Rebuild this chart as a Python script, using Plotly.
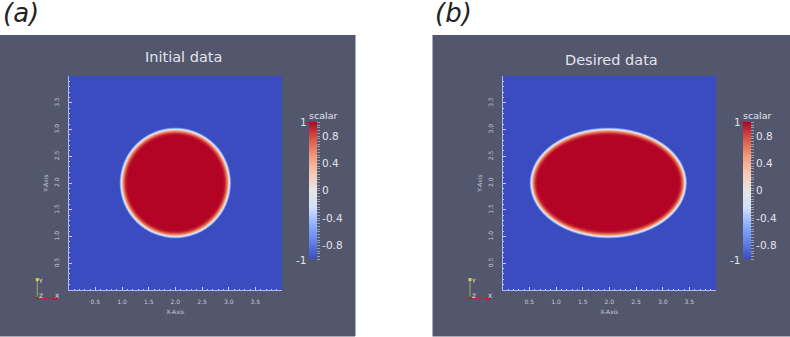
import plotly.graph_objects as go
from plotly.colors import sample_colorscale

W = 790
H = 337

# scalar field, read along the edge of each blob (outer level first)
levels = [-0.92, -0.8, -0.65, -0.5, -0.35, -0.2, -0.05, 0.12, 0.3, 0.48, 0.62, 0.74, 0.84, 0.92, 0.97, 1.0]
radii_y = [1.04, 1.034, 1.028, 1.022, 1.016, 1.01, 1.004, 0.998, 0.99, 0.98, 0.968, 0.955, 0.94, 0.925, 0.91, 0.89]
radii_x_a = [1.05, 1.044, 1.038, 1.032, 1.026, 1.02, 1.014, 1.008, 1.0, 0.99, 0.978, 0.965, 0.95, 0.935, 0.92, 0.9]
radii_x_b = [1.48, 1.474, 1.468, 1.462, 1.456, 1.45, 1.444, 1.438, 1.43, 1.42, 1.408, 1.395, 1.38, 1.365, 1.35, 1.33]
centre_a = (2.0, 2.0)
centre_b = (1.98, 2.0)

grid_x = [0, 4]
grid_y = [0, 4]
background = [[-1, -1], [-1, -1]]

axis_ticks = [0.5, 1.0, 1.5, 2.0, 2.5, 3.0, 3.5]
cbar_labels = {0.8: '0.8', 0.4: '0.4', 0.0: '0', -0.4: '-0.4', -0.8: '-0.8'}
cbar_ticks = [round(-1 + 0.04 * i, 2) for i in range(51)]

coolwarm = [[0, '#3b4cc0'], [0.125, '#6282ea'], [0.25, '#8db0fe'], [0.375, '#d3e1fb'], [0.5, '#e6e5e5'],
            [0.625, '#f8c8b2'], [0.75, '#f49a7b'], [0.875, '#d95847'], [1, '#b40426']]

PANEL = '#52576e'
EDGE = '#a9abb9'
TEXT = '#e4e4ea'
FONT = 'DejaVu Sans'


def fx(px):
    return px / W


def fy(px):
    return 1 - px / H


def axis_style(**kwargs):
    return dict(range=[0, 4], tickvals=axis_ticks, ticktext=['%.1f' % t for t in axis_ticks], ticks='inside',
                ticklen=3, tickwidth=1, tickcolor='#c5cdf2', showgrid=False, zeroline=False, showline=True,
                linecolor='#aeb9f0', linewidth=1, ticklabelstandoff=6,
                tickfont=dict(size=6, color='#c9cad4', family=FONT),
                minor=dict(dtick=0.1, ticks='inside', ticklen=1.5, tickcolor='#c5cdf2', showgrid=False), **kwargs)


def add_text(fig, text, x, y, size, color=TEXT, anchor='center'):
    fig.add_annotation(text=text, xref='paper', yref='paper', x=fx(x), y=fy(y), xanchor=anchor, yanchor='middle',
                       showarrow=False, font=dict(size=size, color=color, family=FONT))


def add_panel(fig, n, left, right, plot_left, cbar_left, title, title_x, title_y, centre, radii_x, triad_x, edge_x):
    xname = 'x' if n == 1 else 'x%d' % n
    yname = 'y' if n == 1 else 'y%d' % n
    plot_right = plot_left + 213.3

    fig.add_shape(type='rect', xref='paper', yref='paper', x0=fx(left), x1=fx(right), y0=fy(336), y1=fy(35),
                  fillcolor=PANEL, line_width=0, layer='below')
    fig.add_shape(type='line', xref='paper', yref='paper', x0=fx(left), x1=fx(right), y0=fy(336.5), y1=fy(336.5),
                  line=dict(color=EDGE, width=1), layer='below')
    fig.add_shape(type='line', xref='paper', yref='paper', x0=fx(edge_x), x1=fx(edge_x), y0=fy(336), y1=fy(35),
                  line=dict(color=EDGE, width=1), layer='below')

    ticktext = [cbar_labels.get(t, '') for t in cbar_ticks]
    fig.add_trace(go.Heatmap(x=grid_x, y=grid_y, z=background, zmin=-1, zmax=1, colorscale=coolwarm,
                             xaxis=xname, yaxis=yname, hoverinfo='skip',
                             colorbar=dict(x=fx(cbar_left), xanchor='left', y=fy(259.3), yanchor='bottom',
                                           len=137.3 / H, thickness=7.5, thicknessmode='pixels', outlinewidth=0,
                                           ypad=0, xpad=0, tickvals=cbar_ticks, ticktext=ticktext, ticks='outside',
                                           ticklen=3.5, tickwidth=1, tickcolor='#9a9dad',
                                           tickfont=dict(size=10.5, color=TEXT, family=FONT))))

    # concentric level sets of the field, on the data axes
    for level, rx, ry in zip(levels, radii_x, radii_y):
        color = sample_colorscale(coolwarm, (level + 1) / 2)[0]
        fig.add_shape(type='circle', xref=xname, yref=yname, x0=centre[0] - rx, x1=centre[0] + rx,
                      y0=centre[1] - ry, y1=centre[1] + ry, fillcolor=color, line_width=0, layer='above')

    add_text(fig, title, title_x, title_y, 14.5)
    add_text(fig, 'scalar', cbar_left + 14, 115, 9.5)
    add_text(fig, '1', cbar_left - 6, 122.5, 10.5)
    add_text(fig, '-1', cbar_left - 8, 259.5, 10.5)

    fig.add_shape(type='line', xref='paper', yref='paper', x0=fx(cbar_left - 3), x1=fx(cbar_left), y0=fy(122.5),
                  y1=fy(122.5), line=dict(color='#a8233c', width=1))

    # orientation triad
    base_y = 298.3
    fig.add_shape(type='line', xref='paper', yref='paper', x0=fx(triad_x), x1=fx(triad_x), y0=fy(base_y), y1=fy(280),
                  line=dict(color='#a8a848', width=1))
    fig.add_shape(type='line', xref='paper', yref='paper', x0=fx(triad_x), x1=fx(triad_x + 18), y0=fy(base_y),
                  y1=fy(base_y), line=dict(color='#c8202c', width=1))
    for x0, x1, y0, y1, color in [(triad_x - 1.5, triad_x + 1.5, base_y - 1.5, base_y + 1.5, '#0a7a20'),
                                  (triad_x + 17, triad_x + 20, base_y - 1.5, base_y + 1.5, '#d01020'),
                                  (triad_x - 1.5, triad_x + 1.5, 278, 281, '#d8d030')]:
        fig.add_shape(type='rect', xref='paper', yref='paper', x0=fx(x0), x1=fx(x1), y0=fy(y1), y1=fy(y0),
                      fillcolor=color, line_width=0)
    for text, dx, y in [('X', 19.5, 295), ('Y', 3, 280), ('Z', 3.5, 295.5)]:
        add_text(fig, text, triad_x + dx, y, 6)

    return dict(domain=[fx(plot_left), fx(plot_right)]), dict(domain=[fy(290), fy(76)])


fig = go.Figure()

xa, ya = add_panel(fig, 1, 0, 355, 68.7, 309, 'Initial data', 183, 57, centre_a, radii_x_a, 37.3, 355.5)
xb, yb = add_panel(fig, 2, 432.5, 790, 502.7, 743.3, 'Desired data', 611.7, 60, centre_b, radii_x_b, 470, 432.5)

axis_title_font = dict(size=6, color='#c9cad4', family=FONT)
fig.update_layout(
    xaxis=dict(**xa, **axis_style(anchor='y', title=dict(text='X-Axis', standoff=5, font=axis_title_font))),
    yaxis=dict(**ya, **axis_style(anchor='x', tickangle=-90, title=dict(text='Y-Axis', standoff=4, font=axis_title_font))),
    xaxis2=dict(**xb, **axis_style(anchor='y2', title=dict(text='X-Axis', standoff=5, font=axis_title_font))),
    yaxis2=dict(**yb, **axis_style(anchor='x2', tickangle=-90, title=dict(text='Y-Axis', standoff=4, font=axis_title_font))),
    width=W, height=H, margin=dict(l=0, r=0, t=0, b=0), paper_bgcolor='white', plot_bgcolor=PANEL, showlegend=False,
)

add_text(fig, '<i>(a)</i>', 1, 12.5, 26, color='#222222', anchor='left')
add_text(fig, '<i>(b)</i>', 433, 12.5, 26, color='#222222', anchor='left')

fig.write_html("out.html", config=dict(displayModeBar=False), post_script="document.body.style.margin='0';")
